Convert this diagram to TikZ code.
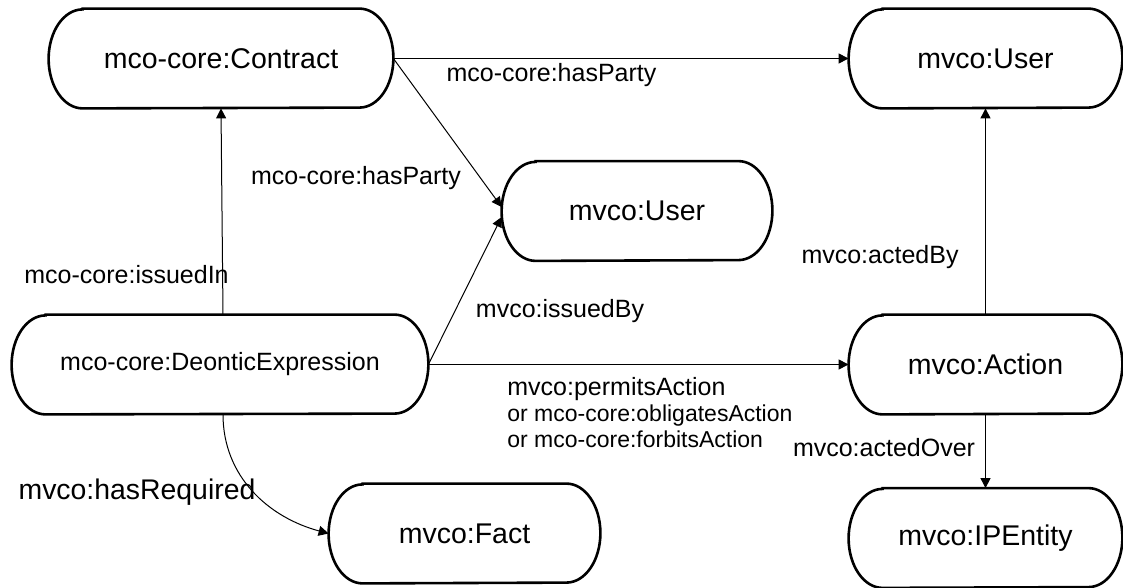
\documentclass[tikz,border=0pt]{standalone}
\usepackage{fontspec}
\setmainfont{Liberation Sans}
\usetikzlibrary{arrows.meta}

\begin{document}
\begin{tikzpicture}[x=0.5pt,y=-0.5pt,
    concept/.style={rectangle,inner sep=0pt,minimum height=49.5pt,
      font=\fontsize{14.25}{16}\selectfont},
    rel/.style={line width=0.5pt,-{Triangle[length=5pt,width=5pt]}},
    lbl/.style={inner sep=0pt,font=\fontsize{12.5}{14}\selectfont}]
    \useasboundingbox (0,0) rectangle (1123,588);
    % classes
    \node[concept,minimum width=172pt] (contract) at (221,58.5) {mco-core:Contract};
    \node[concept,minimum width=136.5pt] (userA) at (985.5,58.5) {mvco:User};
    \node[concept,minimum width=135pt] (userB) at (637,211) {mvco:User};
    \node[concept,minimum width=208pt,font=\fontsize{12.5}{14}\selectfont] (deontic) at (220,364.5) {mco-core:DeonticExpression};
    \node[concept,minimum width=136.5pt] (action) at (985.5,364.5) {mvco:Action};
    \node[concept,minimum width=135.5pt] (fact) at (464.5,533.5) {mvco:Fact};
    \node[concept,minimum width=136.5pt] (ipentity) at (985.5,538) {mvco:IPEntity};
    \foreach \n in {contract,userA,userB,deontic,action,fact,ipentity}
      \draw[line width=1.3pt] ([xshift=17pt]\n.north west) -- ([xshift=-17pt]\n.north east)
        arc[start angle=90,end angle=-90,x radius=17pt,y radius=24.75pt]
        -- ([xshift=17pt]\n.south west)
        arc[start angle=270,end angle=90,x radius=17pt,y radius=24.75pt] -- cycle;
    % properties
    \draw[rel] (contract.east) -- (userA.west);
    \draw[rel] (contract.east) -- ([yshift=2pt]userB.west);
    \draw[rel] (deontic.east) -- ([yshift=-3pt]userB.west);
    \draw[rel] (deontic.east) -- (action.west);
    \draw[rel] ([xshift=1.5pt]deontic.north) -- (contract.south);
    \draw[rel] (action.north) -- (userA.south);
    \draw[rel] (action.south) -- (ipentity.north);
    \draw[rel] ([xshift=1.5pt]deontic.south) to[out=-90,in=165] (fact.west);
    \node[lbl] (hasPartyA) at (551.5,75) {mco-core:hasParty};
    \node[lbl] (hasPartyB) at (356,178) {mco-core:hasParty};
    \node[lbl] (issuedIn) at (126.5,275) {mco-core:issuedIn};
    \node[lbl] (issuedBy) at (560,311) {mvco:issuedBy};
    \node[lbl,anchor=north west,align=left,font=\fontsize{11.5}{13}\selectfont] (permits) at (507,377)
      {{\fontsize{12.5}{13}\selectfont mvco:permitsAction}\\or mco-core:obligatesAction\\or mco-core:forbitsAction};
    \node[lbl] (actedBy) at (880,257) {mvco:actedBy};
    \node[lbl] (actedOver) at (884,448) {mvco:actedOver};
    \node[lbl,font=\fontsize{14.2}{16}\selectfont] (hasRequired) at (137,492) {mvco:hasRequired};
\end{tikzpicture}
\end{document}
